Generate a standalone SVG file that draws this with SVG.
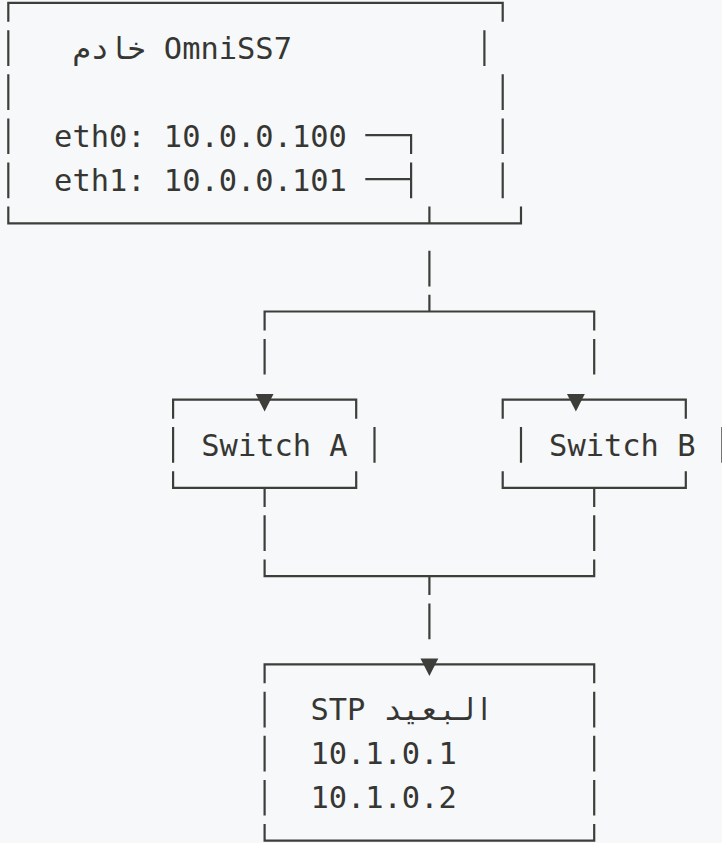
<svg xmlns="http://www.w3.org/2000/svg" xmlns:xlink="http://www.w3.org/1999/xlink" width="722" height="843" viewBox="0 0 722 843">
<style>
.ln{fill:none;stroke:#3d3d3a;stroke-width:2.2;stroke-linecap:butt;stroke-linejoin:miter}
.tx{font-family:"DejaVu Sans Mono","Liberation Mono","Noto Sans",monospace;font-size:30.4px;fill:#363633}
.ar{fill:#3d3d3a}
</style>
<defs>
<path id="tri" d="M-8.9 -5.8 H8.9 L0 11.8 Z"/>
</defs>
<rect x="0" y="0" width="722" height="843" fill="#f6f8fa"/>

<g id="server">
<path class="ln" d="M8.3 21.8 V2.8 H502.7 V21.8"/>
<path class="ln" d="M8.3 30.2 V65.9 M8.3 74.3 V110 M8.3 118.4 V154.1 M8.3 162.5 V198.2"/>
<path class="ln" d="M484.4 30.2 V65.9 M502.7 74.3 V110 M502.7 118.4 V154.1 M502.7 162.5 V198.2"/>
<path class="ln" d="M8.3 206.6 V223.3 H521 V206.6"/>
<text class="tx" x="72.4" y="58.7">خادم OmniSS7</text>
<text class="tx" x="54.1" y="146.9">eth0: 10.0.0.100</text>
<text class="tx" x="54.1" y="191">eth1: 10.0.0.101</text>
</g>

<g id="switch-a">
<path class="ln" d="M173.1 418.7 V399.7 H356.2 V418.7"/>
<path class="ln" d="M173.1 427.1 V462.8 M374.5 427.1 V462.8"/>
<path class="ln" d="M173.1 471.2 V487.9 H356.2 V471.2"/>
<text class="tx" x="201.3" y="455.6">Switch A</text>
</g>

<g id="switch-b">
<path class="ln" d="M502.7 418.7 V399.7 H685.8 V418.7"/>
<path class="ln" d="M521 427.1 V462.8 M722.4 427.1 V462.8"/>
<path class="ln" d="M502.7 471.2 V487.9 H685.8 V471.2"/>
<text class="tx" x="549.1" y="455.6">Switch B</text>
</g>

<g id="remote-stp">
<path class="ln" d="M264.6 683.3 V664.3 H594.2 V683.3"/>
<path class="ln" d="M264.6 691.7 V727.4 M264.6 735.8 V771.5 M264.6 779.9 V815.6"/>
<path class="ln" d="M594.2 691.7 V727.4 M594.2 735.8 V771.5 M594.2 779.9 V815.6"/>
<path class="ln" d="M264.6 824 V840.7 H594.2 V824"/>
<text class="tx" x="310.4" y="720.2">STP البعيد</text>
<text class="tx" x="310.4" y="764.3">10.1.0.1</text>
<text class="tx" x="310.4" y="808.4">10.1.0.2</text>
</g>

<g id="connectors">
<path class="ln" d="M365.3 135.1 H411.1 V154.1"/>
<path class="ln" d="M365.3 179.2 H411.1 M411.1 162.5 V198.2"/>
<path class="ln" d="M429.4 206.6 V223.3 M429.4 250.7 V286.4 M429.4 294.8 V311.5"/>
<path class="ln" d="M264.6 330.5 V311.5 H594.2 V330.5"/>
<path class="ln" d="M264.6 338.9 V374.6 M594.2 338.9 V374.6"/>
<use xlink:href="#tri" class="ar" x="264.6" y="399.7"/>
<use xlink:href="#tri" class="ar" x="575.9" y="399.7"/>
<path class="ln" d="M264.6 487.9 V506.9 M594.2 487.9 V506.9"/>
<path class="ln" d="M264.6 515.3 V551 M594.2 515.3 V551"/>
<path class="ln" d="M264.6 559.4 V576.1 H594.2 V559.4"/>
<path class="ln" d="M429.4 576.1 V595.1 M429.4 603.5 V639.2"/>
<use xlink:href="#tri" class="ar" x="429.4" y="664.3"/>
</g>
</svg>
